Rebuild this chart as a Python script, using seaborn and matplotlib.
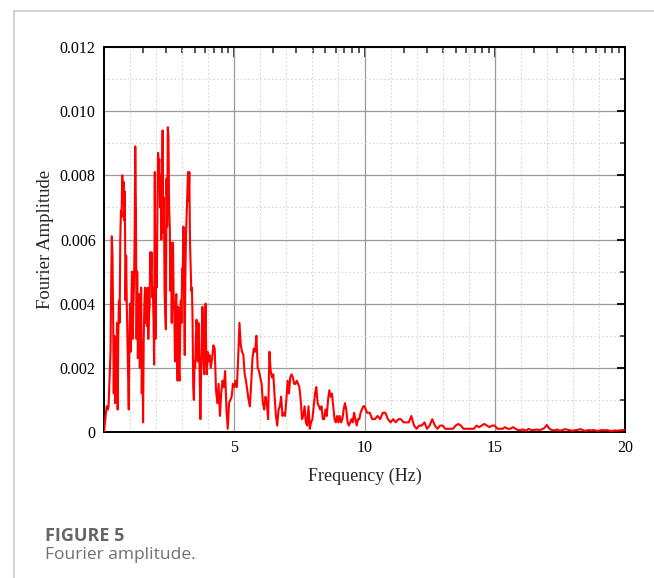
import numpy as np
import pandas as pd
import matplotlib
matplotlib.use("Agg")
import matplotlib.pyplot as plt
from matplotlib.lines import Line2D
from matplotlib.ticker import FixedLocator, MultipleLocator, FuncFormatter
import seaborn as sns

# ---------------- data (amplitude in units of 1e-4) ----------------
AMP_UNIT = 1e-4

# 0.000 - 3.975 Hz, step 0.025 Hz
freq_a_start, freq_a_step = 0.0, 0.025
amp_a = [
    0, 2, 4, 6, 8, 8, 7, 8, 14, 20, 25, 45, 61, 55, 37, 12, 30, 9, 20, 13,
    34, 7, 31, 41, 34, 60, 69, 67, 80, 74, 78, 66, 75, 41, 55, 40, 29, 18, 7, 29,
    40, 25, 39, 50, 29, 39, 45, 60, 89, 70, 29, 50, 23, 35, 43, 20, 31, 45, 12, 28,
    3, 29, 40, 45, 34, 41, 33, 45, 29, 36, 39, 56, 49, 56, 42, 45, 35, 21, 81, 29,
    49, 45, 68, 87, 83, 85, 70, 80, 60, 75, 94, 62, 73, 44, 37, 32, 79, 64, 95, 92,
    70, 64, 44, 59, 34, 58, 59, 41, 37, 22, 39, 43, 29, 16, 39, 19, 16, 32, 41, 34,
    51, 50, 64, 41, 24, 50, 62, 68, 73, 81, 72, 81, 60, 52, 44, 45, 35, 14, 10, 22,
    20, 29, 35, 32, 22, 34, 26, 17, 4, 17, 29, 39, 35, 21, 18, 29, 40, 24, 18, 25,
]

# 4.00 - 9.95 Hz, step 0.05 Hz
freq_b_start, freq_b_step = 4.0, 0.05
amp_b = [
    22, 24, 20, 23, 27, 26, 13, 9, 15, 5, 12, 16, 14, 19, 7, 1, 9, 10, 11, 15,
    14, 16, 14, 23, 34, 27, 25, 24, 18, 16, 13, 10, 8, 15, 23, 26, 25, 30, 20, 19,
    17, 15, 9, 7, 11, 9, 4, 25, 19, 17, 18, 11, 5, 2, 7, 8, 11, 5, 6, 5,
    10, 16, 12, 17, 18, 17, 15, 15, 16, 15, 14, 10, 4, 5, 8, 3, 2, 8, 1, 3,
    4, 8, 12, 14, 9, 8, 7, 8, 4, 4, 7, 5, 10, 13, 11, 12, 8, 4, 3, 5,
    3, 5, 3, 4, 7, 9, 7, 3, 2, 3, 4, 3, 6, 4, 2, 4, 4, 6, 7, 8,
]

# 10.0 - 20.0 Hz, step 0.1 Hz
freq_c_start, freq_c_step = 10.0, 0.1
amp_c = [
    8, 6, 6, 4, 4, 5, 4, 6, 6, 4, 3, 4, 3, 4, 4, 3, 3, 3, 5, 2,
    1, 2, 2, 3, 1, 2, 4, 2, 1, 2, 2, 1, 1, 1, 1, 2, 2.5, 2, 1, 1,
    1, 1, 1, 2, 1.5, 2, 2.5, 2, 1.5, 2, 2, 1, 1, 1, 1.5, 1, 1, 1.5, 1, 0.6,
    0.6, 0.8, 0.4, 1, 0.6, 0.6, 0.8, 0.6, 0.8, 1.2, 2.2, 1, 0.6, 0.5, 0.8, 0.4, 0.6, 0.9, 0.7, 0.5,
    0.4, 0.6, 0.7, 0.9, 0.5, 0.4, 0.6, 0.5, 0.6, 0.4, 0.4, 0.6, 0.5, 0.6, 0.4, 0.3, 0.5, 0.4, 0.5, 0.6,
    0.6,
]

x_ticks = [5, 10, 15, 20]
y_ticks = [0, 0.002, 0.004, 0.006, 0.008, 0.010, 0.012]
x_label = "Frequency (Hz)"
y_label = "Fourier Amplitude"
fig_title = "FIGURE 5"
fig_caption = "Fourier amplitude."

# ---------------- build table ----------------
def seg(start, step, amps):
    f = start + step * np.arange(len(amps))
    return pd.DataFrame({"freq": np.round(f, 4), "amp": np.asarray(amps, float) * AMP_UNIT})

df = pd.concat([seg(freq_a_start, freq_a_step, amp_a),
                seg(freq_b_start, freq_b_step, amp_b),
                seg(freq_c_start, freq_c_step, amp_c)], ignore_index=True)

# ---------------- figure ----------------
sns.set_style("white")
plt.rcParams["font.family"] = ["Liberation Serif", "DejaVu Serif"]

W, H = 654, 578
fig = plt.figure(figsize=(W / 100, H / 100), dpi=100)
ax = fig.add_axes([104 / W, 1 - 432 / H, (625 - 104) / W, (432 - 47) / H])

sns.lineplot(data=df, x="freq", y="amp", color="#ff0000", linewidth=1.5,
             ax=ax, estimator=None, sort=True, zorder=3)

ax.set_xlim(0, 20)
ax.set_ylim(0, 0.012)

ax.xaxis.set_major_locator(FixedLocator(x_ticks))
ax.xaxis.set_minor_locator(MultipleLocator(1))
ax.yaxis.set_major_locator(FixedLocator(y_ticks))
ax.yaxis.set_minor_locator(MultipleLocator(0.001))
ax.yaxis.set_major_formatter(FuncFormatter(lambda v, p: "0" if abs(v) < 1e-12 else f"{v:.3f}"))
ax.xaxis.set_major_formatter(FuncFormatter(lambda v, p: f"{v:g}"))

ax.grid(which="major", color="#9a9a9a", linewidth=0.9, zorder=0)
ax.grid(which="minor", color="#d6d6d6", linewidth=0.8, linestyle=(0, (1.5, 2)), zorder=0)
ax.set_axisbelow(True)

for s in ax.spines.values():
    s.set_visible(True)
    s.set_color("black")
    s.set_linewidth(1.4)

ax.tick_params(which="major", direction="in", length=6, width=1.3, right=True, top=False,
               labelsize=11.5, colors="black", pad=6)
ax.tick_params(which="minor", direction="in", length=3.5, width=1.1, right=True, top=False)

# top axis with log-like minor ticks in every 5 Hz segment
top = ax.secondary_xaxis("top")
top.xaxis.set_major_locator(FixedLocator([0, 5, 10, 15, 20]))
minor_top = [5 * k + 5 * np.log10(n) for k in range(4) for n in range(2, 10)]
top.xaxis.set_minor_locator(FixedLocator(minor_top))
top.tick_params(which="major", direction="in", length=7, width=1.3, labeltop=False)
top.tick_params(which="minor", direction="in", length=4, width=1.1)
top.spines["top"].set_linewidth(1.4)

ax.set_xlabel(x_label, fontsize=13, labelpad=8)
ax.set_ylabel(y_label, fontsize=13.5, labelpad=4)

# frame lines of the page
fig.add_artist(Line2D([14 / W, 1], [1 - 11 / H, 1 - 11 / H], color="#cccccc", linewidth=1.2))
fig.add_artist(Line2D([14 / W, 14 / W], [0, 1 - 11 / H], color="#cccccc", linewidth=1.2))

fig.text(45 / W, 1 - 536 / H, fig_title, fontsize=13, fontweight="bold", color="#666666",
         family=["Open Sans", "DejaVu Sans"], va="center", ha="left")
fig.text(45 / W, 1 - 555 / H, fig_caption, fontsize=12.5, color="#707070",
         family=["Open Sans", "DejaVu Sans"], va="center", ha="left")

fig.savefig("out.png", dpi=100)
